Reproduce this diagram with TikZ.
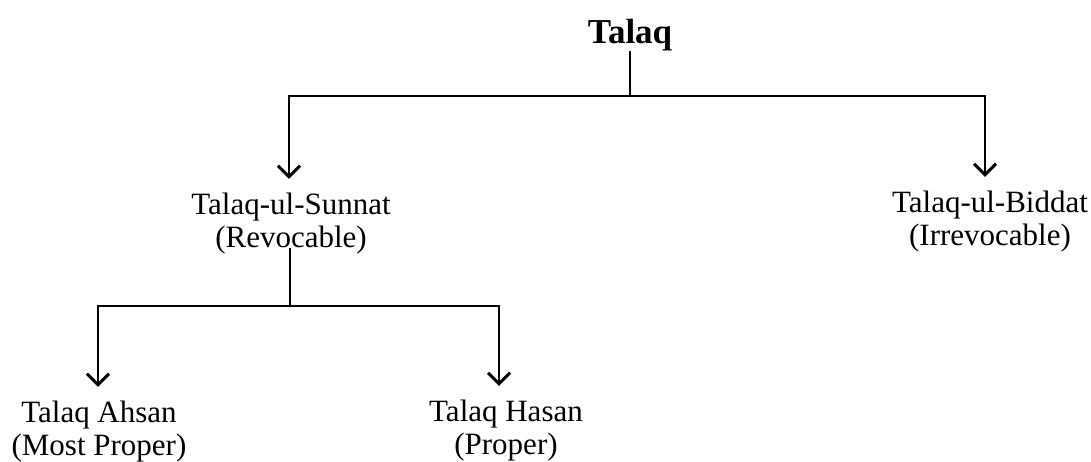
\documentclass[tikz,border=0pt]{standalone}
\usepackage{fontspec}
\setmainfont{Liberation Serif}
\usetikzlibrary{arrows.meta}
\begin{document}
\begin{tikzpicture}[x=1pt,y=-1pt,
  lbl/.style={align=center,font=\fontsize{31}{32.5}\selectfont,inner sep=0pt},
  ttl/.style={font=\fontsize{35}{38}\selectfont\bfseries,inner sep=0pt},
  conn/.style={line width=2.9pt},
  arr/.style={conn,-{Straight Barb[length=11pt,width=22pt,line width=2.9pt]}}]
\useasboundingbox (0,0) rectangle (1091,461);
\node[ttl,anchor=base] (talaq) at (630,43) {Talaq};
\node[lbl,anchor=base] (sunnat) at (291,247) {Talaq-ul-Sunnat\\(Revocable)};
\node[lbl,anchor=base] (biddat) at (990,245) {Talaq-ul-Biddat\\(Irrevocable)};
\node[lbl,anchor=base] (ahsan) at (99,455) {Talaq Ahsan\\(Most Proper)};
\node[lbl,anchor=base] (hasan) at (506,454) {Talaq Hasan\\(Proper)};
\coordinate (j1) at (talaq.south |- {(0,96)});
\coordinate (j2) at ([xshift=-1pt]sunnat.south |- {(0,306)});
\draw[conn] (talaq.south) -- (j1);
\draw[arr,shorten >=14pt] (j1) -| ([xshift=-2pt]sunnat.north);
\draw[arr,shorten >=14pt] (j1) -| ([xshift=-5pt]biddat.north);
\draw[conn] ([xshift=-1pt,yshift=6pt]sunnat.south) -- (j2);
\draw[arr,shorten >=14pt] (j2) -| ([xshift=-1pt]ahsan.north);
\draw[arr,shorten >=14pt] (j2) -| ([xshift=-7pt]hasan.north);
\end{tikzpicture}
\end{document}
